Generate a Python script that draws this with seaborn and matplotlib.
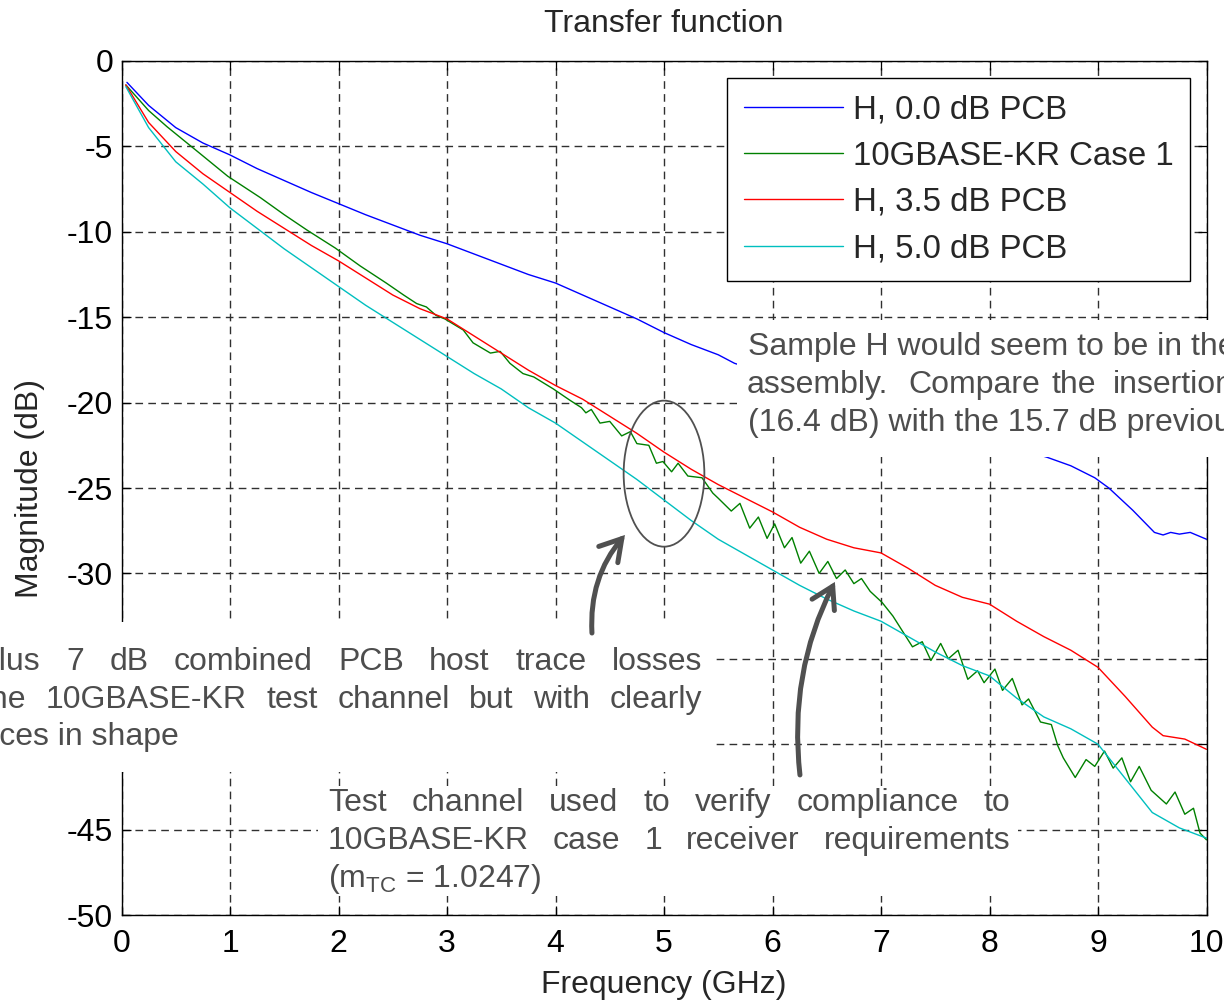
import matplotlib
matplotlib.use("Agg")
import matplotlib.pyplot as plt
import seaborn as sns
from matplotlib.patches import Ellipse, FancyArrowPatch, Rectangle

# ---------------- data ----------------
blue_x = [0.05, 0.25, 0.5, 0.75, 1.0, 1.25, 1.5, 1.75, 2.0, 2.25, 2.5, 2.75, 3.0, 3.25, 3.5,
          3.75, 4.0, 4.25, 4.5, 4.75, 5.0, 5.25, 5.5, 5.65, 6.0, 6.5, 7.0, 7.5, 8.0, 8.53,
          8.75, 8.97, 9.1, 9.32, 9.52, 9.6, 9.67, 9.75, 9.85, 10.0]
blue_y = [-1.25, -2.6, -3.9, -4.8, -5.5, -6.3, -7.0, -7.7, -8.35, -9.0, -9.6, -10.2, -10.7,
          -11.3, -11.9, -12.5, -13.0, -13.7, -14.4, -15.1, -15.9, -16.6, -17.2, -17.7, -18.4,
          -19.4, -20.4, -21.3, -22.2, -23.2, -23.7, -24.4, -25.0, -26.3, -27.6, -27.75, -27.6,
          -27.7, -27.6, -28.0]

green_x = [0.04, 0.25, 0.42, 0.72, 0.98, 1.28, 1.5, 1.71, 1.97, 2.2, 2.44, 2.6, 2.72, 2.81,
           2.9, 2.98, 3.15, 3.24, 3.4, 3.49, 3.58, 3.7, 3.8, 3.98, 4.13, 4.24, 4.28, 4.33,
           4.41, 4.5, 4.61, 4.69, 4.75, 4.86, 4.93, 4.99, 5.07, 5.13, 5.22, 5.35, 5.45, 5.5,
           5.62, 5.7, 5.79, 5.87, 5.95, 6.02, 6.11, 6.18, 6.26, 6.34, 6.43, 6.51, 6.59, 6.67,
           6.75, 6.82, 6.9, 7.01, 7.11, 7.19, 7.29, 7.38, 7.46, 7.55, 7.62, 7.71, 7.8, 7.89,
           7.95, 8.05, 8.12, 8.21, 8.3, 8.36, 8.47, 8.57, 8.63, 8.68, 8.79, 8.89, 8.97, 9.06,
           9.14, 9.22, 9.3, 9.38, 9.49, 9.63, 9.71, 9.8, 9.88, 9.94, 10.0]
green_y = [-1.4, -2.9, -3.85, -5.4, -6.75, -8.0, -9.0, -9.9, -10.95, -12.0, -13.0, -13.7,
           -14.2, -14.4, -14.9, -15.1, -15.75, -16.5, -17.1, -17.0, -17.7, -18.3, -18.5,
           -19.2, -19.85, -20.3, -20.6, -20.4, -21.2, -21.1, -21.95, -21.7, -22.4, -22.5,
           -23.55, -23.45, -24.05, -23.55, -24.3, -24.4, -25.3, -25.6, -26.35, -25.9, -27.35,
           -26.7, -27.95, -27.1, -28.5, -27.9, -29.4, -28.7, -30.0, -29.3, -30.3, -29.8,
           -30.6, -30.3, -31.05, -31.7, -32.5, -33.3, -34.3, -34.0, -35.1, -34.1, -35.0,
           -34.5, -36.2, -35.7, -36.4, -35.6, -36.85, -36.15, -37.7, -37.35, -38.7, -38.85,
           -40.1, -40.8, -41.95, -40.9, -41.3, -40.4, -41.4, -40.8, -42.2, -41.3, -42.7,
           -43.5, -42.8, -44.1, -43.75, -45.2, -45.6]

red_x = [0.04, 0.25, 0.5, 0.75, 1.0, 1.25, 1.5, 1.75, 2.0, 2.25, 2.5, 2.75, 3.0, 3.25, 3.5,
         3.75, 4.0, 4.25, 4.5, 4.75, 5.0, 5.25, 5.5, 5.75, 6.0, 6.25, 6.5, 6.75, 7.0, 7.25,
         7.5, 7.75, 8.0, 8.25, 8.5, 8.75, 9.0, 9.25, 9.5, 9.6, 9.8, 10.0]
red_y = [-1.4, -3.6, -5.3, -6.6, -7.7, -8.8, -9.8, -10.8, -11.7, -12.7, -13.7, -14.5, -15.1,
         -16.1, -17.1, -18.1, -19.0, -19.8, -20.8, -21.8, -22.9, -23.9, -24.8, -25.6, -26.4,
         -27.3, -28.0, -28.5, -28.8, -29.7, -30.7, -31.4, -31.8, -32.8, -33.7, -34.5, -35.5,
         -37.2, -39.0, -39.5, -39.7, -40.3]

cyan_x = [0.04, 0.25, 0.5, 0.75, 1.0, 1.25, 1.5, 1.75, 2.0, 2.25, 2.5, 2.75, 3.0, 3.25, 3.5,
          3.75, 4.0, 4.25, 4.5, 4.75, 5.0, 5.25, 5.5, 5.75, 6.0, 6.25, 6.5, 6.75, 7.0, 7.25,
          7.5, 7.75, 8.0, 8.25, 8.5, 8.75, 9.0, 9.25, 9.5, 9.75, 10.0]
cyan_y = [-1.5, -3.9, -5.9, -7.2, -8.6, -9.8, -11.0, -12.1, -13.2, -14.3, -15.3, -16.3, -17.3,
          -18.3, -19.2, -20.3, -21.2, -22.3, -23.4, -24.5, -25.7, -26.9, -28.0, -28.9, -29.8,
          -30.7, -31.5, -32.2, -32.8, -33.7, -34.6, -35.4, -36.0, -37.3, -38.4, -39.1, -40.0,
          -42.0, -44.0, -44.9, -45.5]

series_labels = ["H, 0.0 dB PCB", "10GBASE-KR Case 1", "H, 3.5 dB PCB", "H, 5.0 dB PCB"]
series_colors = ["#0000ff", "#008000", "#ff0000", "#00bfbf"]

x_ticks = list(range(0, 11))
y_ticks = list(range(-50, 1, 5))

title_text = "Transfer function"
xlabel_text = "Frequency (GHz)"
ylabel_text = "Magnitude (dB)"

note_a = [["Sample H would seem to be in the"],
          ["assembly.", "Compare", "the", "insertion"],
          ["(16.4 dB) with the 15.7 dB previous"]]
note_b = ["plus 7 dB combined PCB host trace losses",
          "the 10GBASE-KR test channel but with clearly",
          "differences in shape"]
note_c = ["Test channel used to verify compliance to",
          "10GBASE-KR case 1 receiver requirements",
          "(m$_{\\mathrm{TC}}$ = 1.0247)"]

# ---------------- styling ----------------
sns.set_style("ticks")
plt.rcParams['font.family'] = ['Liberation Sans', 'DejaVu Sans']
plt.rcParams['axes.unicode_minus'] = False
plt.rcParams['mathtext.fontset'] = 'custom'
plt.rcParams['mathtext.rm'] = 'Liberation Sans'
plt.rcParams['mathtext.it'] = 'Liberation Sans:italic'
plt.rcParams['mathtext.bf'] = 'Liberation Sans:bold'

W, H = 1224, 1002
FS = 23
NOTE_COLOR = '#4d4d4d'

fig = plt.figure(figsize=(W / 100, H / 100), dpi=100)
fig.patch.set_facecolor('white')
ax = fig.add_axes([121.5 / W, 1 - 915 / H, (1206.5 - 121.5) / W, (915 - 61) / H])

data = [(blue_x, blue_y), (green_x, green_y), (red_x, red_y), (cyan_x, cyan_y)]
for (xs, ys), lab, col in zip(data, series_labels, series_colors):
    sns.lineplot(x=xs, y=ys, ax=ax, color=col, lw=1.0, label=lab,
                 estimator=None, sort=False)

ax.set_xlim(0, 10)
ax.set_ylim(-50, 0)
ax.set_xticks(x_ticks)
ax.set_yticks(y_ticks)
ax.set_xticklabels([str(v) for v in x_ticks])
ax.set_yticklabels([str(v) for v in y_ticks])
ax.tick_params(direction='in', length=6.5, width=0.9, top=True, right=True,
               labelsize=FS, colors='k')
ax.tick_params(axis='x', pad=10)
ax.tick_params(axis='y', pad=6)
ax.grid(True, color='#303030', lw=1.0, linestyle=(0, (5.5, 3.8)))
for s in ax.spines.values():
    s.set_visible(True)
    s.set_color('k')
    s.set_linewidth(1.0)

ax.set_title(title_text, fontsize=FS, pad=21)
ax.set_xlabel(xlabel_text, fontsize=FS, labelpad=8)
ax.set_ylabel(ylabel_text, fontsize=FS, labelpad=16)

leg = ax.legend(loc='upper right', bbox_to_anchor=(1190 / W, 1 - 78 / H),
                bbox_transform=fig.transFigure, fontsize=23.8, frameon=True,
                fancybox=False, edgecolor='k', framealpha=1, handlelength=3.0,
                handletextpad=0.3, labelspacing=0.46, borderpad=0.5, borderaxespad=0)
leg.get_frame().set_linewidth(1.0)
for line in leg.get_lines():
    line.set_linewidth(1.0)

# ellipse highlighting the ripple region
ax.add_patch(Ellipse((5.0, -24.16), 0.744, 8.55, fill=False, ec='#505050', lw=1.3, zorder=4))

# ---------------- annotation boxes ----------------
def px2fig(x, y):
    return x / W, 1 - y / H

def white_box(x0, y0, x1, y1):
    fx, fy = px2fig(x0, y1)
    fig.add_artist(Rectangle((fx, fy), (x1 - x0) / W, (y1 - y0) / H,
                             transform=fig.transFigure, facecolor='white',
                             edgecolor='none', zorder=5))

white_box(737, 320, 1230, 457)
white_box(-10, 622, 716, 772)
white_box(318, 786, 1018, 896)

renderer = fig.canvas.get_renderer()

def put(text, x, y):
    fx, fy = px2fig(x, y)
    return fig.text(fx, fy, text, fontsize=FS, color=NOTE_COLOR, ha='left',
                    va='baseline', zorder=6)

def justify(line, left, right, y):
    words = line.split()
    arts = [put(w, 0, y) for w in words]
    widths = [a.get_window_extent(renderer).width for a in arts]
    gap = (right - left - sum(widths)) / max(len(words) - 1, 1)
    x = left
    for a, wdt in zip(arts, widths):
        fx, fy = px2fig(x, y)
        a.set_position((fx, fy))
        x += wdt + gap

# note A (top right)
put(note_a[0][0], 748, 355)
for w, xw in zip(note_a[1], [747, 908, 1052, 1113]):
    put(w, xw, 393)
put(note_a[2][0], 748, 431)

# note B (left)
justify(note_b[0], -18, 702, 670)
justify(note_b[1], -18, 702, 708)
put(note_b[2], -107, 745)

# note C (bottom)
justify(note_c[0], 328, 1010, 811)
justify(note_c[1], 328, 1010, 849)
put(note_c[2], 328, 887)

# ---------------- arrows ----------------
arrow_specs = [((4.336, -33.49), (4.64, -27.75), -0.2),
               ((6.253, -41.80), (6.575, -30.5), -0.15)]
for pa, pb, rad in arrow_specs:
    arr = FancyArrowPatch(posA=pa, posB=pb, transform=ax.transData,
                          arrowstyle='->,head_length=0.75,head_width=0.45',
                          mutation_scale=20, lw=3.6, color='#505050',
                          connectionstyle=f'arc3,rad={rad}', shrinkA=0, shrinkB=0,
                          zorder=7, capstyle='round', joinstyle='miter')
    fig.add_artist(arr)

fig.savefig('out.png', dpi=100)
